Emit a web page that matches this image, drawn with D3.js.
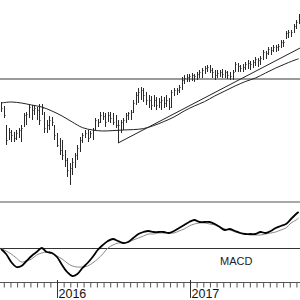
<!DOCTYPE html>
<html>
<head>
<meta charset="utf-8">
<script src="https://cdn.jsdelivr.net/npm/d3@7"></script>
<style>
body { margin: 0; background: #fff; }
svg { display: block; }
</style>
</head>
<body>
<script>
var w = 300;
var h = 300;

// weekly bars, first one on this Friday
var firstWeek = "2015-07-31";

var highs = [
  2090, 2070, 1975, 1960, 1950, 1940, 1950, 1960, 1975, 2035,
  2040, 2075, 2075, 2070, 2065, 2080, 2080, 2040, 2000, 2020,
  2015, 1975, 1935, 1910, 1900, 1850, 1810, 1785, 1810, 1835,
  1875, 1915, 1935, 1950, 1950, 1945, 1960, 2010, 2005, 2040,
  2040, 2035, 2040, 2040, 2035, 2025, 2000, 2000, 2010, 2035,
  2040, 2050, 2100, 2140, 2160, 2165, 2160, 2140, 2125, 2120,
  2125, 2115, 2110, 2120, 2115, 2125, 2110, 2150, 2160, 2160,
  2175, 2215, 2225, 2230, 2230, 2235, 2230, 2240, 2250, 2260,
  2270, 2275, 2275, 2260, 2250, 2250, 2250, 2255, 2250, 2245,
  2240, 2250, 2290, 2285, 2275, 2280, 2290, 2300, 2295, 2300,
  2315, 2310, 2320, 2350, 2345, 2365, 2365, 2375, 2375, 2380,
  2400, 2400, 2445, 2450, 2450, 2480, 2500, 2530
];
var lows = [
  2040, 2010, 1875, 1900, 1890, 1890, 1900, 1910, 1890, 1965,
  1975, 2010, 2000, 2025, 2000, 1975, 2025, 1935, 1935, 1950,
  1970, 1900, 1865, 1825, 1800, 1765, 1715, 1675, 1725, 1760,
  1800, 1840, 1885, 1910, 1890, 1910, 1900, 1950, 1965, 1985,
  2000, 1965, 1990, 1985, 1975, 1960, 1885, 1935, 1950, 1985,
  2000, 2000, 2035, 2075, 2085, 2100, 2090, 2075, 2060, 2050,
  2065, 2050, 2060, 2050, 2060, 2065, 2050, 2060, 2120, 2125,
  2135, 2150, 2180, 2190, 2190, 2195, 2190, 2200, 2210, 2210,
  2230, 2240, 2235, 2210, 2200, 2210, 2215, 2210, 2210, 2205,
  2200, 2200, 2240, 2240, 2240, 2240, 2250, 2255, 2250, 2260,
  2270, 2265, 2275, 2300, 2305, 2325, 2325, 2340, 2340, 2345,
  2360, 2365, 2405, 2410, 2415, 2435, 2455, 2480
];
var closes = [
  2060, 2025, 1900, 1940, 1925, 1910, 1935, 1950, 1960, 2025,
  2030, 2065, 2050, 2060, 2050, 2000, 2060, 1960, 1975, 2000,
  1990, 1925, 1875, 1850, 1825, 1800, 1750, 1760, 1790, 1825,
  1860, 1900, 1925, 1935, 1910, 1935, 1950, 2000, 1990, 2025,
  2020, 1990, 2025, 2010, 1990, 1975, 1975, 1990, 2000, 2025,
  2035, 2040, 2085, 2125, 2140, 2150, 2125, 2100, 2100, 2075,
  2100, 2075, 2090, 2100, 2085, 2100, 2065, 2140, 2150, 2150,
  2165, 2200, 2210, 2215, 2220, 2225, 2220, 2230, 2240, 2250,
  2260, 2265, 2250, 2240, 2225, 2235, 2240, 2230, 2240, 2225,
  2220, 2240, 2280, 2270, 2260, 2265, 2280, 2285, 2280, 2290,
  2305, 2300, 2310, 2340, 2335, 2355, 2350, 2365, 2365, 2370,
  2390, 2390, 2435, 2440, 2440, 2470, 2490, 2520
];

// moving average, read every 4th bar (+ the last one)
var maBars = [0, 4, 8, 12, 16, 20, 24, 28, 32, 36, 40, 44, 48, 52, 56, 60,
  64, 68, 72, 76, 80, 84, 88, 92, 96, 100, 104, 108, 112, 116, 117];
var maValues = [2085, 2090, 2085, 2075, 2065, 2045, 2020, 1990, 1962, 1950,
  1945, 1947, 1950, 1952, 1957, 1972, 1992, 2015, 2045, 2070, 2092, 2120,
  2145, 2170, 2192, 2210, 2235, 2260, 2282, 2302, 2306];

// horizontal level and trend line
var levelPrice = 2205;
var trendStart = ["2016-06-17", 1885];
var trendEnd = ["2017-10-31", 2360];

// MACD, read every 2nd bar (+ the last one)
var macdBars = d3.range(0, 117, 2).concat([117]);
var macdLine = [
  -1, -6, -14, -19, -18, -13, -8, -4, 0, -4,
  -5, -9, -17, -24, -28, -26, -20, -15, -9, -2,
  3, 7, 9, 7, 5, 6, 10, 14, 16, 17,
  16, 16, 16, 15, 17, 20, 23, 26, 28, 26,
  26, 26, 24, 21, 18, 19, 17, 15, 14, 14,
  14, 16, 15, 17, 20, 22, 24, 29, 34, 36
];
var signalLine = [
  0, -3, -6, -10, -14, -13, -11, -7, -5, -4,
  -5, -8, -11, -15, -18, -19, -19, -18, -15, -11,
  -6, 0, 3, 5, 5, 6, 8, 10, 12, 14,
  14, 15, 15, 15, 15, 17, 19, 22, 24, 25,
  25, 24, 23, 21, 19, 18, 16, 15, 14, 13,
  13, 13, 14, 15, 16, 18, 20, 25, 28, 30
];

var yearTicks = ["2016-01-01", "2017-01-01"];
var yearLabels = ["2016", "2017"];

var parse = d3.timeParse("%Y-%m-%d");
var start = parse(firstWeek);
var weeks = highs.map(function(d, i) { return d3.timeDay.offset(start, 7 * i); });
var years = yearTicks.map(parse);

var x = d3.scaleTime().domain(years).range([57, 190]);
var y = d3.scaleLinear().domain([1600, 2600]).range([200, 0]);
var yMacd = d3.scaleLinear().domain([-40, 50]).range([288, 198]);

var svg = d3.select("body")
.append("svg")
.attr("width", w)
.attr("height", h);

svg.append("defs").append("clipPath").attr("id", "clip")
.append("rect").attr("x", 0).attr("y", 0).attr("width", w).attr("height", h);

var plot = svg.append("g").attr("clip-path", "url(#clip)");

// level line across price panel
plot.append("line")
.attr("x1", 0).attr("x2", w)
.attr("y1", y(levelPrice)).attr("y2", y(levelPrice))
.attr("stroke", "#9a9a9a")
.attr("stroke-width", 2);

// price bars
var bx = function(i) { return Math.round(x(weeks[i])) + 0.5; };
plot.selectAll("line.bar")
.data(highs)
.enter()
.append("line")
.attr("class", "bar")
.attr("x1", function(d, i) { return bx(i); })
.attr("x2", function(d, i) { return bx(i); })
.attr("y1", function(d) { return y(d); })
.attr("y2", function(d, i) { return y(lows[i]); })
.attr("stroke", "#2a2a2a")
.attr("stroke-width", 1);

plot.selectAll("line.close")
.data(closes)
.enter()
.append("line")
.attr("class", "close")
.attr("x1", function(d, i) { return bx(i) - 0.5; })
.attr("x2", function(d, i) { return bx(i) + 1; })
.attr("y1", function(d) { return Math.round(y(d)) + 0.5; })
.attr("y2", function(d) { return Math.round(y(d)) + 0.5; })
.attr("stroke", "#2a2a2a")
.attr("stroke-width", 1);

// moving average
var maLine = d3.line()
.x(function(d, i) { return x(weeks[maBars[i]]); })
.y(function(d) { return y(d); })
.curve(d3.curveCatmullRom);

plot.append("path")
.datum(maValues)
.attr("d", maLine)
.attr("fill", "none")
.attr("stroke", "#222")
.attr("stroke-width", 1);

// trend line
plot.append("line")
.attr("x1", x(parse(trendStart[0]))).attr("y1", y(trendStart[1]))
.attr("x2", x(parse(trendEnd[0]))).attr("y2", y(trendEnd[1]))
.attr("stroke", "#222")
.attr("stroke-width", 1);

// MACD panel
plot.append("line")
.attr("x1", 0).attr("x2", w)
.attr("y1", 202).attr("y2", 202)
.attr("stroke", "#a8a8a8")
.attr("stroke-width", 2);

plot.append("line")
.attr("x1", 0).attr("x2", w)
.attr("y1", Math.round(yMacd(0)) + 0.5).attr("y2", Math.round(yMacd(0)) + 0.5)
.attr("stroke", "#333")
.attr("stroke-width", 1);

var macdPath = d3.line()
.x(function(d, i) { return x(weeks[macdBars[i]]); })
.y(function(d) { return yMacd(d); })
.curve(d3.curveCatmullRom);

plot.append("path")
.datum(signalLine)
.attr("d", macdPath)
.attr("fill", "none")
.attr("stroke", "#8a8a8a")
.attr("stroke-width", 1);

plot.append("path")
.datum(macdLine)
.attr("d", macdPath)
.attr("fill", "none")
.attr("stroke", "#000")
.attr("stroke-width", 1.8);

svg.append("text")
.text("MACD")
.attr("x", 220)
.attr("y", 265)
.attr("font-family", "'Liberation Sans', Arial, sans-serif")
.attr("font-size", "11px")
.attr("fill", "#222");

// time axis
var axisY = 282;
svg.append("line")
.attr("x1", 0).attr("x2", w)
.attr("y1", axisY + 0.5).attr("y2", axisY + 0.5)
.attr("stroke", "#555")
.attr("stroke-width", 1);

var yearSpan = years[1] - years[0];
var minorTicks = d3.range(-9, 43).map(function(k) {
  return new Date(+years[0] + k * yearSpan / 20);
});

var minorAxis = d3.axisBottom(x)
.tickValues(minorTicks)
.tickSize(5)
.tickSizeOuter(0)
.tickFormat("");

var gMinor = svg.append("g")
.attr("transform", "translate(0," + (axisY + 0.5) + ")")
.call(minorAxis);
gMinor.select(".domain").remove();
gMinor.selectAll("line").attr("stroke", "#555");

var yearAxis = d3.axisBottom(x)
.tickValues(years)
.tickSize(18)
.tickSizeOuter(0)
.tickFormat(function(d, i) { return yearLabels[i]; });

var gYear = svg.append("g")
.attr("transform", "translate(0," + (axisY - 2) + ")")
.call(yearAxis);
gYear.select(".domain").remove();
gYear.selectAll("line").attr("stroke", "#333");
gYear.selectAll("text")
.attr("x", 1)
.attr("y", 18)
.attr("dy", 0)
.attr("text-anchor", "start")
.attr("font-family", "'Liberation Sans', Arial, sans-serif")
.attr("font-size", "12.5px")
.attr("fill", "#111");
</script>
</body>
</html>
